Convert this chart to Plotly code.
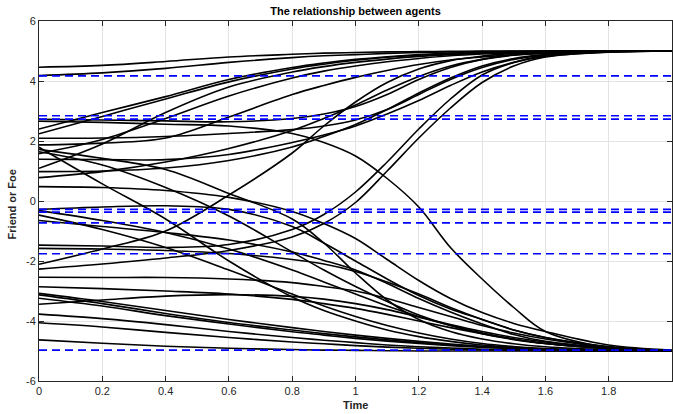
import plotly.graph_objects as go

# time samples shared by every agent trajectory
t = [0, 0.2, 0.4, 0.6, 0.8, 0.9, 1.0, 1.1, 1.2, 1.3, 1.4, 1.5, 1.6, 1.8, 2.0]

# agent trajectories
U1 = [4.46, 4.52, 4.65, 4.80, 4.89, 4.93, 4.95, 4.97, 4.98, 4.99, 5.0, 5.0, 5.0, 5.0, 5.0]
U2 = [4.18, 4.27, 4.42, 4.62, 4.78, 4.84, 4.88, 4.92, 4.95, 4.97, 4.98, 4.99, 5.0, 5.0, 5.0]
U3 = [2.72, 2.70, 2.67, 2.64, 2.75, 2.90, 3.15, 3.55, 4.05, 4.45, 4.72, 4.87, 4.94, 4.99, 5.0]
U4 = [2.66, 2.62, 2.56, 2.50, 2.25, 1.95, 1.50, 0.75, -0.20, -1.55, -2.60, -3.55, -4.35, -4.88, -4.99]
U5 = [2.40, 2.95, 3.48, 4.05, 4.45, 4.60, 4.72, 4.81, 4.88, 4.93, 4.96, 4.98, 4.99, 5.0, 5.0]
U6 = [2.24, 2.82, 3.40, 3.97, 4.40, 4.56, 4.69, 4.79, 4.86, 4.91, 4.95, 4.97, 4.99, 5.0, 5.0]
U7 = [2.09, 2.10, 2.15, 2.25, 2.38, 2.50, 2.70, 3.05, 3.55, 4.05, 4.45, 4.72, 4.87, 4.97, 5.0]
U8 = [1.87, 1.93, 2.10, 2.80, 3.55, 3.85, 4.12, 4.35, 4.55, 4.70, 4.80, 4.88, 4.93, 4.98, 5.0]
U9 = [1.79, 0.57, -0.60, -2.00, -3.20, -3.65, -4.00, -4.30, -4.52, -4.68, -4.80, -4.88, -4.93, -4.98, -5.0]
U10 = [1.72, 1.42, 1.05, 0.25, -0.60, -1.40, -2.40, -3.30, -3.95, -4.35, -4.60, -4.76, -4.86, -4.96, -5.0]
U11 = [1.64, 1.20, 0.45, -0.50, -1.70, -2.30, -2.85, -3.35, -3.80, -4.15, -4.42, -4.62, -4.75, -4.92, -5.0]
U12 = [1.58, 2.05, 2.75, 3.50, 4.10, 4.33, 4.50, 4.64, 4.75, 4.84, 4.90, 4.94, 4.97, 4.99, 5.0]
U13 = [1.39, 1.38, 1.38, 1.55, 1.95, 2.20, 2.50, 2.90, 3.35, 3.85, 4.30, 4.62, 4.82, 4.96, 5.0]
U14 = [1.09, 1.90, 2.95, 3.80, 4.30, 4.48, 4.62, 4.73, 4.82, 4.88, 4.93, 4.96, 4.98, 5.0, 5.0]
U15 = [0.98, 1.00, 1.10, 1.35, 1.80, 2.15, 2.55, 3.05, 3.60, 4.10, 4.50, 4.75, 4.88, 4.98, 5.0]
U16 = [0.78, 0.98, 1.30, 1.75, 2.35, 2.75, 3.20, 3.70, 4.15, 4.50, 4.72, 4.86, 4.93, 4.99, 5.0]
U17 = [0.48, 0.45, 0.35, 0.12, -0.35, -0.75, -1.25, -1.95, -2.65, -3.25, -3.72, -4.08, -4.35, -4.80, -4.97]

N1 = [-0.28, -0.20, -0.16, -0.28, -0.85, -1.40, -2.00, -2.60, -3.15, -3.60, -3.95, -4.30, -4.55, -4.88, -5.0]
N2 = [-0.32, -0.65, -1.05, -1.60, -2.30, -2.70, -3.10, -3.50, -3.85, -4.15, -4.40, -4.60, -4.75, -4.92, -5.0]
N3 = [-0.47, -0.95, -1.55, -2.30, -3.10, -3.50, -3.85, -4.15, -4.40, -4.60, -4.75, -4.85, -4.92, -4.98, -5.0]
N4 = [-0.65, -0.85, -1.05, -1.30, -1.70, -1.98, -2.30, -2.75, -3.25, -3.70, -4.10, -4.45, -4.68, -4.90, -5.0]
N5 = [-1.47, -1.50, -1.55, -1.45, -0.95, -0.45, 0.30, 1.30, 2.40, 3.40, 4.20, 4.62, 4.85, 4.97, 5.0]
N6 = [-1.58, -1.60, -1.65, -1.75, -1.95, -2.10, -2.35, -2.70, -3.10, -3.55, -3.95, -4.30, -4.55, -4.85, -5.0]
N7 = [-2.11, -1.60, -1.00, 0.20, 1.60, 2.50, 3.30, 3.95, 4.40, 4.68, 4.83, 4.92, 4.96, 4.99, 5.0]
N8 = [-2.27, -2.10, -1.90, -1.65, -1.20, -0.75, -0.05, 1.00, 2.10, 3.10, 3.95, 4.50, 4.80, 4.97, 5.0]
N9 = [-2.54, -2.55, -2.55, -2.60, -2.72, -2.85, -3.00, -3.25, -3.55, -3.85, -4.15, -4.40, -4.60, -4.88, -5.0]
N10 = [-2.86, -2.92, -3.00, -3.10, -3.28, -3.42, -3.58, -3.78, -4.00, -4.22, -4.42, -4.60, -4.75, -4.92, -5.0]
N11 = [-3.44, -3.30, -3.17, -3.12, -3.18, -3.27, -3.42, -3.62, -3.87, -4.12, -4.35, -4.55, -4.70, -4.90, -5.0]
N12 = [-3.08, -3.35, -3.65, -3.95, -4.22, -4.35, -4.47, -4.58, -4.68, -4.77, -4.84, -4.90, -4.94, -4.98, -5.0]
N13 = [-3.13, -3.42, -3.75, -4.05, -4.30, -4.42, -4.53, -4.63, -4.72, -4.80, -4.86, -4.91, -4.95, -4.99, -5.0]
N14 = [-3.24, -3.50, -3.82, -4.10, -4.36, -4.47, -4.58, -4.67, -4.75, -4.82, -4.88, -4.92, -4.95, -4.99, -5.0]
N15 = [-3.77, -3.92, -4.12, -4.35, -4.55, -4.64, -4.72, -4.80, -4.86, -4.90, -4.94, -4.96, -4.98, -5.0, -5.0]
N16 = [-4.06, -4.20, -4.38, -4.55, -4.70, -4.76, -4.82, -4.87, -4.91, -4.94, -4.96, -4.98, -4.99, -5.0, -5.0]
N17 = [-4.63, -4.74, -4.84, -4.91, -4.95, -4.97, -4.98, -4.99, -5.0, -5.0, -5.0, -5.0, -5.0, -5.0, -5.0]

agents = [U1, U2, U3, U4, U5, U6, U7, U8, U9, U10, U11, U12, U13, U14, U15, U16, U17,
          N1, N2, N3, N4, N5, N6, N7, N8, N9, N10, N11, N12, N13, N14, N15, N16, N17]

# horizontal reference levels (blue dashed)
ref_levels = [4.17, 2.84, 2.73, -0.28, -0.37, -0.73, -1.76, -4.97]
t_span = [0, 2]

x_ticks = [0, 0.2, 0.4, 0.6, 0.8, 1.0, 1.2, 1.4, 1.6, 1.8, 2.0]
x_ticktext = ["0", "0.2", "0.4", "0.6", "0.8", "1", "1.2", "1.4", "1.6", "1.8", "2"]
y_ticks = [-6, -4, -2, 0, 2, 4, 6]
y_ticktext = ["-6", "-4", "-2", "0", "2", "4", "6"]

FONT = "Liberation Sans, Arial, sans-serif"

fig = go.Figure()
for a in agents:
    fig.add_trace(go.Scatter(x=t, y=a, mode="lines",
                             line=dict(color="black", width=1.6, shape="spline", smoothing=1.0),
                             hoverinfo="skip", showlegend=False))
for lv in ref_levels:
    fig.add_trace(go.Scatter(x=t_span, y=[lv, lv], mode="lines",
                             line=dict(color="#0000FF", width=1.6, dash="8px,5px"),
                             hoverinfo="skip", showlegend=False))

axis_common = dict(showgrid=True, gridcolor="#e3e3e3", gridwidth=1,
                   showline=True, linecolor="#262626", linewidth=1,
                   ticks="inside", ticklen=5, tickcolor="#262626", mirror="ticks",
                   zeroline=False, automargin=False,
                   tickfont=dict(family=FONT, size=11, color="#262626"))

fig.update_xaxes(range=[0, 2], tickvals=x_ticks, ticktext=x_ticktext, **axis_common)
fig.update_yaxes(range=[-6, 6], tickvals=y_ticks, ticktext=y_ticktext, **axis_common)

fig.update_layout(
    width=673, height=414,
    margin=dict(l=39, r=1, t=21, b=33, autoexpand=False),
    paper_bgcolor="white", plot_bgcolor="white",
    title=dict(text="<b>The relationship between agents</b>",
               x=0.5, xref="paper", xanchor="center",
               y=1 - 11 / 414, yref="container", yanchor="middle", automargin=False,
               font=dict(family=FONT, size=11, color="black")),
    annotations=[
        dict(text="<b>Time</b>", x=0.5, xref="paper", y=-0.067, yref="paper",
             xanchor="center", yanchor="middle", showarrow=False,
             font=dict(family=FONT, size=11, color="#262626")),
        dict(text="<b>Friend or Foe</b>", x=-0.043, xref="paper", y=0.49, yref="paper",
             xanchor="center", yanchor="middle", showarrow=False, textangle=-90,
             font=dict(family=FONT, size=11, color="#262626")),
    ],
)

fig.write_html("out.html", config={"displayModeBar": False},
               post_script="document.body.style.margin='0px';document.body.style.padding='0px';")
